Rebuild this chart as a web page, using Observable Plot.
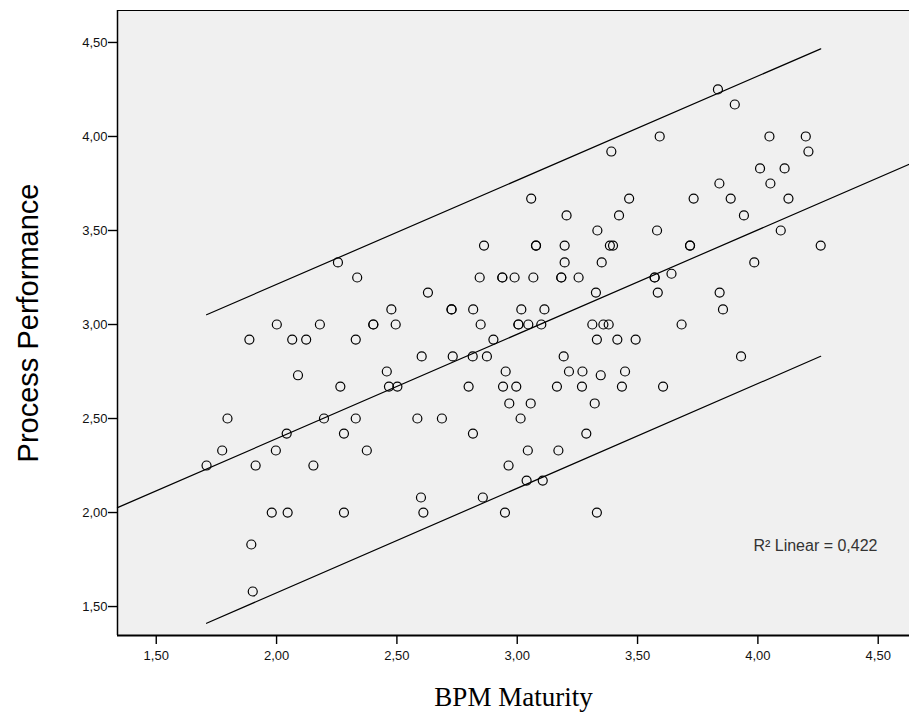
<!DOCTYPE html>
<html><head><meta charset="utf-8">
<script src="https://cdn.jsdelivr.net/npm/d3@7"></script>
<script src="https://cdn.jsdelivr.net/npm/@observablehq/plot@0.6"></script>
<style>
html,body{margin:0;padding:0;background:#fff}
svg{display:block}
</style>
</head><body><div id="chart"></div>
<script>
// Process Performance levels (y) and the BPM Maturity values (x) observed at each level
const performanceLevels = [4.25, 4.17, 4.00, 3.92, 3.83, 3.75, 3.67, 3.58, 3.50, 3.42, 3.33, 3.27, 3.25, 3.17, 3.08, 3.00, 2.92, 2.83, 2.75, 2.73, 2.67, 2.58, 2.50, 2.42, 2.33, 2.25, 2.17, 2.08, 2.00, 1.83, 1.58];
const maturityAtLevel = [
  [3.834],
  [3.904],
  [3.592, 4.048, 4.199],
  [3.391, 4.210],
  [4.009, 4.111],
  [3.840, 4.052],
  [3.058, 3.465, 3.733, 3.887, 4.127],
  [3.205, 3.423, 3.942],
  [3.333, 3.581, 4.095],
  [2.862, 3.078, 3.078, 3.197, 3.385, 3.398, 3.718, 3.718, 4.261],
  [2.255, 3.197, 3.351, 3.985],
  [3.641],
  [2.335, 2.844, 2.938, 2.938, 2.989, 3.067, 3.183, 3.183, 3.255, 3.571, 3.571],
  [2.629, 3.327, 3.584, 3.841],
  [2.477, 2.727, 2.727, 2.817, 3.017, 3.113, 3.855],
  [2.001, 2.180, 2.402, 2.402, 2.495, 2.848, 3.005, 3.005, 3.046, 3.100, 3.312, 3.358, 3.380, 3.683],
  [1.887, 2.065, 2.123, 2.329, 2.901, 3.331, 3.416, 3.492],
  [2.603, 2.732, 2.815, 2.874, 3.193, 3.930],
  [2.458, 2.952, 3.215, 3.271, 3.448],
  [2.089, 3.347],
  [2.265, 2.467, 2.502, 2.798, 2.941, 2.996, 3.165, 3.269, 3.435, 3.606],
  [2.967, 3.056, 3.322],
  [1.796, 2.197, 2.329, 2.585, 2.687, 3.014],
  [2.042, 2.280, 2.816, 3.287],
  [1.774, 1.997, 2.375, 3.044, 3.171],
  [1.709, 1.913, 2.153, 2.964],
  [3.039, 3.106],
  [2.600, 2.857],
  [1.980, 2.046, 2.280, 2.610, 2.949, 3.331],
  [1.895],
  [1.901]
];
const xTicks = [1.5, 2.0, 2.5, 3.0, 3.5, 4.0, 4.5];
const yTicks = [1.5, 2.0, 2.5, 3.0, 3.5, 4.0, 4.5];
const xDomain = [1.339, 4.63];
const yDomain = [1.346, 4.67];
// fit line and 95% prediction interval lines
const fitX = [1.339, 4.63];
const fitY = [2.026, 3.853];
const bandX = [1.709, 4.261];
const upperY = [3.052, 4.466];
const lowerY = [1.411, 2.831];
const r2Label = "R\u00b2 Linear = 0,422";
const xTitle = "BPM Maturity";
const yTitle = "Process Performance";

const points = performanceLevels.flatMap((p, i) => maturityAtLevel[i].map(m => ({bpm: m, perf: p})));
const fmt = d => d.toFixed(2).replace(".", ",");
const sans = "'Liberation Sans', Arial, sans-serif";

const chart = Plot.plot({
  width: 909,
  height: 721,
  marginLeft: 117,
  marginTop: 10,
  marginRight: 0,
  marginBottom: 86,
  x: {domain: xDomain},
  y: {domain: yDomain},
  style: {fontFamily: sans, background: "white", overflow: "visible"},
  marks: [
    Plot.frame({fill: "#f0f0f0", stroke: null}),
    Plot.axisX({ticks: xTicks, tickFormat: () => "", tickSize: 9, label: null, strokeWidth: 1.4, stroke: "black"}),
    Plot.axisY({ticks: yTicks, tickFormat: () => "", tickSize: 9, label: null, strokeWidth: 1.4, stroke: "black"}),
    Plot.text(xTicks, {x: d => d, text: fmt, frameAnchor: "bottom", dy: 24, fontSize: 13, fill: "#111", fontFamily: sans}),
    Plot.text(yTicks, {y: d => d, text: fmt, frameAnchor: "left", dx: -10, textAnchor: "end", fontSize: 13, fill: "#111", fontFamily: sans}),
    Plot.ruleX([xDomain[0]], {stroke: "black", strokeWidth: 1.5}),
    Plot.ruleY([yDomain[0]], {stroke: "black", strokeWidth: 2}),
    Plot.ruleY([yDomain[1]], {stroke: "black", strokeWidth: 1.2}),
    Plot.line(fitX, {x: d => d, y: (d, i) => fitY[i], stroke: "black", strokeWidth: 1.2}),
    Plot.line(bandX, {x: d => d, y: (d, i) => upperY[i], stroke: "black", strokeWidth: 1.2}),
    Plot.line(bandX, {x: d => d, y: (d, i) => lowerY[i], stroke: "black", strokeWidth: 1.2}),
    Plot.dot(points, {x: "bpm", y: "perf", r: 4.5, stroke: "black", strokeWidth: 1.2, fill: "none"}),
    Plot.text([r2Label], {frameAnchor: "bottom-right", dx: -32, dy: -85, textAnchor: "end", fontSize: 16, fill: "#333", fontFamily: sans}),
    Plot.text([yTitle], {frameAnchor: "left", dx: -89, rotate: -90, textAnchor: "middle", fontSize: 29, fill: "black", fontFamily: sans}),
    Plot.text([xTitle], {frameAnchor: "bottom", dy: 70, textAnchor: "middle", fontSize: 27, fill: "black", fontFamily: "'Liberation Serif', 'Times New Roman', serif"})
  ]
});
document.getElementById("chart").appendChild(chart);
</script>
</body></html>
